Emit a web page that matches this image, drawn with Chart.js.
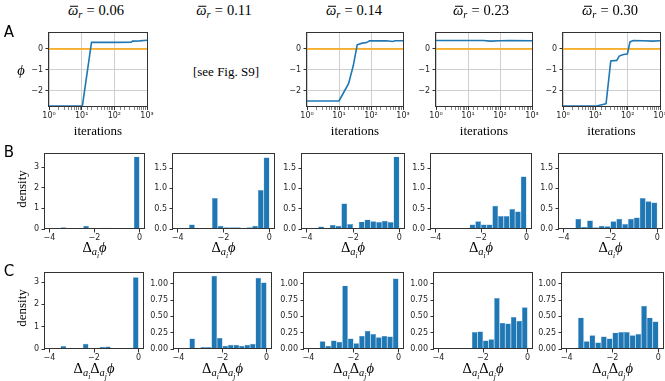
<!DOCTYPE html>
<html>
<head>
<meta charset="utf-8">
<script src="https://cdn.jsdelivr.net/npm/chart.js@4.4.1/dist/chart.umd.min.js"></script>
<style>
  body { margin: 0; width: 665px; height: 381px; background: #fff; position: relative; overflow: hidden; }
  canvas { position: absolute; }
  .t { position: absolute; white-space: nowrap; transform: translate(-50%, -50%); line-height: 1;
       font-family: "Liberation Serif", "DejaVu Serif", serif; font-size: 13px; color: #000; }
  .t sub { font-size: 72%; vertical-align: -0.3em; line-height: 0; }
  .big { font-size: 14.5px; }
  .ttl { font-size: 14.5px; }
  .eq { margin: 0 0.28em; }
  .bar { position: relative; display: inline-block; }
  .bar::after { content: ""; position: absolute; left: 22%; right: 2%; top: 0.2em; border-top: 1px solid #000; }
  .rot { transform: translate(-50%, -50%) rotate(-90deg); }
  .panel { font-family: "DejaVu Sans", sans-serif; font-size: 15px; }
</style>
</head>
<body>
<script>
// ---------- data ----------
const omegas = ["0.06", "0.11", "0.14", "0.23", "0.30"];

// A: phi against iterations (log x). The 0.11 column refers to Fig. S9.
const itersA006 = [1, 10.5, 20, 100, 330, 360, 600, 1000];
const phiA006   = [-2.76, -2.76, 0.32, 0.32, 0.33, 0.38, 0.39, 0.42];
const itersA014 = [1, 10, 14, 20, 28, 37, 50, 73, 90, 150, 300, 480, 560, 1000];
const phiA014   = [-2.51, -2.51, -2.1, -1.66, -0.8, 0.2, 0.27, 0.31, 0.4, 0.39, 0.4, 0.36, 0.4, 0.4];
const itersA023 = [1, 30, 50, 100, 200, 1000];
const phiA023   = [0.41, 0.41, 0.38, 0.4, 0.41, 0.4];
const itersA030 = [1, 10, 20, 21.5, 30, 46, 55, 74, 98, 118, 150, 300, 600, 1000];
const phiA030   = [-2.76, -2.76, -2.66, -2.63, -0.58, -0.55, -0.34, -0.27, -0.24, 0.34, 0.41, 0.4, 0.38, 0.4];
const logTickLabels = ["10\u2070", "10\u00b9", "10\u00b2", "10\u00b3"];

// B and C: histograms, bins of width 0.25 between -4 and 0
const binCenters = [-3.875, -3.625, -3.375, -3.125, -2.875, -2.625, -2.375, -2.125,
                    -1.875, -1.625, -1.375, -1.125, -0.875, -0.625, -0.375, -0.125];
const densB006 = [0, 0, 0.08, 0, 0, 0, 0.15, 0, 0, 0.06, 0.06, 0.03, 0.03, 0, 0.05, 3.5];
const densB011 = [0, 0, 0.11, 0, 0.02, 0.02, 0.76, 0.08, 0.04, 0.04, 0.04, 0.02, 0.04, 0.08, 0.96, 1.76];
const densB014 = [0, 0, 0.06, 0, 0.1, 0.08, 0.63, 0.12, 0.02, 0.18, 0.23, 0.19, 0.17, 0.2, 0.17, 1.78];
const densB023 = [0, 0, 0, 0.015, 0.015, 0, 0.11, 0.19, 0.11, 0.11, 0.57, 0.32, 0.32, 0.49, 0.43, 1.29];
const densB030 = [0, 0, 0.25, 0.05, 0.21, 0.04, 0.08, 0.07, 0.19, 0.25, 0.12, 0.25, 0.28, 0.76, 0.68, 0.65];

const densC006 = [0, 0, 0.13, 0, 0, 0, 0.23, 0, 0, 0.1, 0.11, 0.05, 0.05, 0.05, 0.06, 3.22];
const densC011 = [0, 0, 0.16, 0, 0.03, 0.03, 1.12, 0.17, 0.05, 0.065, 0.065, 0.05, 0.065, 0.08, 1.09, 1.02];
const densC014 = [0, 0, 0.12, 0.05, 0.13, 0.11, 0.97, 0.16, 0.09, 0.2, 0.28, 0.23, 0.18, 0.2, 0.19, 1.08];
const densC023 = [0, 0, 0.01, 0.015, 0.015, 0.01, 0.26, 0.27, 0.13, 0.15, 0.78, 0.4, 0.39, 0.49, 0.43, 0.64];
const densC030 = [0, 0, 0.48, 0.12, 0.21, 0.1, 0.19, 0.16, 0.25, 0.26, 0.26, 0.21, 0.23, 0.66, 0.48, 0.42];

// ---------- layout (plot boxes in page pixels: left, top, right, bottom) ----------
const boxesA = [[49, 32, 147, 107], null, [307, 32, 403, 107], [436, 32, 532, 107], [563, 32, 660, 107]];
const boxesB = [[45, 153, 144, 229], [173, 153, 274, 229], [302, 153, 404, 229], [431, 153, 531, 229], [559, 153, 662, 229]];
const boxesC = [[45, 272, 143, 349], [174, 272, 271, 349], [304, 272, 403, 349], [434, 272, 532, 349], [562, 272, 663, 349]];

const WY = 36, HX = 16, PT = 8, PR = 12;
const BLUE = "#1f77b4";
const tickFont = { family: "DejaVu Sans", size: 8 };
const minus = (s) => String(s).replace("-", "\u2212");
const isPow10 = (v) => Math.abs(Math.log10(v) - Math.round(Math.log10(v))) < 1e-9;

Chart.defaults.animation = false;
Chart.defaults.color = "#262626";

// box around the plotting area, like matplotlib spines
const frame = {
  id: "frame",
  afterDatasetsDraw(chart) {
    const a = chart.chartArea, ctx = chart.ctx;
    ctx.save();
    ctx.strokeStyle = "#333";
    ctx.lineWidth = 1;
    ctx.strokeRect(Math.round(a.left) - 0.5, Math.round(a.top) + 0.5,
                   Math.round(a.right - a.left) + 1, Math.round(a.bottom - a.top) - 1);
    ctx.restore();
  }
};

function canvasFor(box) {
  const cv = document.createElement("canvas");
  cv.width = box[2] - box[0] + WY + PR;
  cv.height = box[3] - box[1] + PT + HX;
  cv.style.left = (box[0] - WY) + "px";
  cv.style.top = (box[1] - PT) + "px";
  document.body.appendChild(cv);
  return cv;
}

function baseOptions(xScale, yScale) {
  return {
    responsive: false,
    devicePixelRatio: 1,
    layout: { padding: { top: PT, right: PR, left: 0, bottom: 0 } },
    plugins: { legend: { display: false }, tooltip: { enabled: false } },
    scales: { x: xScale, y: yScale }
  };
}

function yAxis(min, max, step, dec) {
  return {
    min, max,
    afterFit(s) { s.width = WY; },
    border: { display: false },
    grid: { color: "rgba(0,0,0,0)", tickColor: "#333", tickLength: 3.5 },
    ticks: { stepSize: step, includeBounds: false, font: tickFont, padding: 2.5,
             callback: (v) => minus(Number(v).toFixed(dec)) }
  };
}

function lineChart(box, iters, phi) {
  const pts = iters.map((it, i) => ({ x: it, y: phi[i] }));
  const zero = [{ x: 1, y: 0 }, { x: 1000, y: 0 }];
  const y = yAxis(-2.8, 0.82, 1, 0);
  y.grid.color = "#cfcfcf";
  const x = {
    type: "logarithmic", min: 1, max: 1000,
    afterFit(s) { s.height = HX; },
    border: { display: false },
    grid: {
      color: (c) => (c.tick && isPow10(c.tick.value) ? "#cfcfcf" : "rgba(0,0,0,0)"),
      tickColor: "#333",
      tickWidth: (c) => (c.tick && isPow10(c.tick.value) ? 1 : 0.6),
      tickLength: 3
    },
    ticks: { autoSkip: false, maxRotation: 0, font: tickFont, padding: 1,
             callback: (v) => (isPow10(v) ? logTickLabels[Math.round(Math.log10(v))] : "") }
  };
  new Chart(canvasFor(box), {
    type: "line",
    data: {
      datasets: [
        { data: pts, borderColor: BLUE, borderWidth: 1.6, pointRadius: 0, tension: 0 },
        { data: zero, borderColor: "#ffa500", borderWidth: 1.3, pointRadius: 0 }
      ]
    },
    options: baseOptions(x, y),
    plugins: [frame]
  });
}

function histChart(box, dens, ymax, step, dec) {
  const pts = binCenters.map((c, i) => ({ x: c, y: dens[i] > 0 ? dens[i] : null }));
  const x = {
    type: "linear", min: -4.2, max: 0.2, offset: false,
    afterFit(s) { s.height = HX; },
    border: { display: false },
    grid: { color: "rgba(0,0,0,0)", tickColor: "#333", tickLength: 3.5, offset: false },
    ticks: { stepSize: 2, includeBounds: false, font: tickFont, padding: 1,
             callback: (v) => minus(v) }
  };
  new Chart(canvasFor(box), {
    type: "bar",
    data: {
      datasets: [{
        data: pts, backgroundColor: BLUE, borderColor: "#5b9bd0",
        borderWidth: 0.4, borderSkipped: "start", inflateAmount: 0,
        barPercentage: 1, categoryPercentage: 1
      }]
    },
    options: baseOptions(x, yAxis(0, ymax, step, dec)),
    plugins: [frame]
  });
}

// ---------- charts ----------
lineChart(boxesA[0], itersA006, phiA006);
lineChart(boxesA[2], itersA014, phiA014);
lineChart(boxesA[3], itersA023, phiA023);
lineChart(boxesA[4], itersA030, phiA030);

const densB = [densB006, densB011, densB014, densB023, densB030];
const densC = [densC006, densC011, densC014, densC023, densC030];
densB.forEach((d, i) => {
  if (i === 0) histChart(boxesB[i], d, 3.68, 1, 0);
  else histChart(boxesB[i], d, 1.87, 0.5, 1);
});
densC.forEach((d, i) => {
  if (i === 0) histChart(boxesC[i], d, 3.45, 1, 0);
  else histChart(boxesC[i], d, 1.18, 0.25, 2);
});

// ---------- text ----------
function addText(html, x, y, cls) {
  const d = document.createElement("div");
  d.className = "t" + (cls ? " " + cls : "");
  d.innerHTML = html;
  d.style.left = x + "px";
  d.style.top = y + "px";
  document.body.appendChild(d);
}

const titleX = [96, 224, 354, 481, 610];
omegas.forEach((w, i) => addText('<i class="bar">\u03c9</i><sub><i>r</i></sub><span class="eq">=</span>' + w, titleX[i], 10, "ttl"));
addText("[see Fig. S9]", 226, 71);

boxesA.forEach((b) => { if (b) addText("iterations", (b[0] + b[2]) / 2, 130); });
boxesB.forEach((b) => addText("\u0394<sub><i>a</i><sub><i>i</i></sub></sub><i>\u03d5</i>", (b[0] + b[2]) / 2, 248, "big"));
boxesC.forEach((b) => addText("\u0394<sub><i>a</i><sub><i>i</i></sub></sub>\u0394<sub><i>a</i><sub><i>j</i></sub></sub><i>\u03d5</i>", (b[0] + b[2]) / 2, 369, "big"));

addText("<i>\u03d5</i>", 21, 70, "big");
addText("density", 21, 189, "rot");
addText("density", 21, 308, "rot");

addText("A", 9, 32, "panel");
addText("B", 9, 152, "panel");
addText("C", 9, 271, "panel");
</script>
</body>
</html>
